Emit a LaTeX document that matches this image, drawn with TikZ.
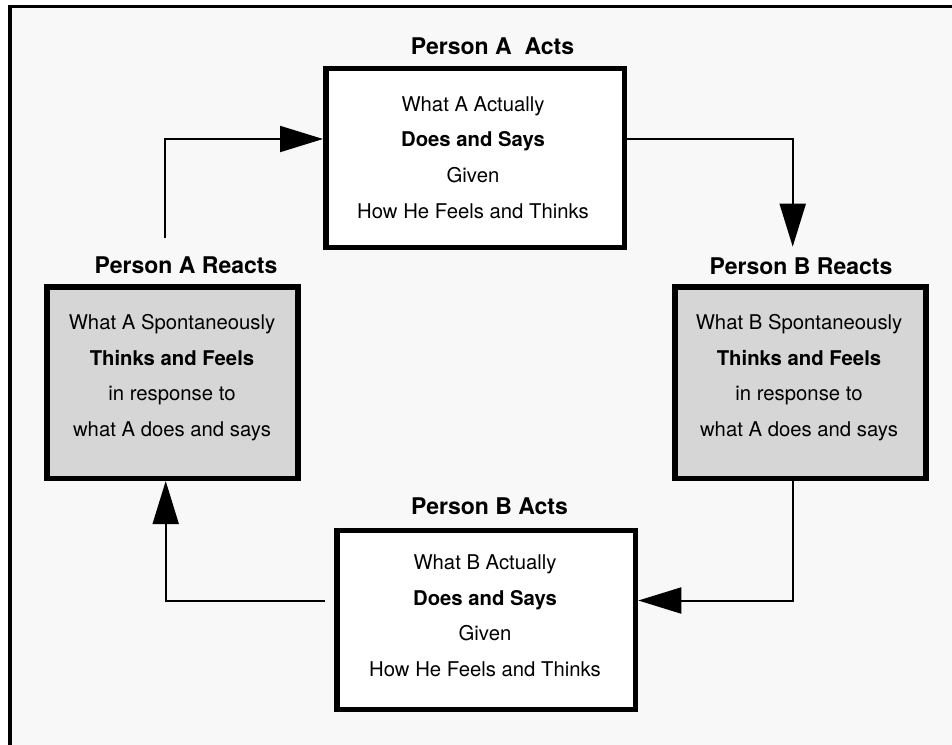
\documentclass[tikz,border=0pt]{standalone}
\usepackage{fontspec}
\setmainfont{TeX Gyre Heros}
\usetikzlibrary{arrows.meta}
\definecolor{bgfill}{HTML}{F8F8F8}
\definecolor{reactfill}{HTML}{D6D6D6}
\tikzset{
  actbox/.style={draw=black, line width=5.5pt, fill=white, inner sep=0pt,
    minimum width=298.5pt, minimum height=178.8pt},
  reactbox/.style={draw=black, line width=5.5pt, fill=reactfill, inner sep=0pt,
    minimum width=251pt, minimum height=191.2pt},
  boxtext/.style={align=center, inner sep=0pt, font=\fontsize{20.3}{35.5}\selectfont},
  titletext/.style={inner sep=0pt, font=\fontsize{23}{27}\selectfont\bfseries},
  conn/.style={line width=2pt, -{Triangle[length=43pt,width=26pt]}},
  plainconn/.style={line width=2pt},
}
\begin{document}
\begin{tikzpicture}[x=1pt,y=-1pt]
\useasboundingbox (0,0) rectangle (952,744);
\fill[bgfill] (10,6.7) rectangle (960,760);
\draw[line width=3.4pt] (10,760) -- (10,6.7) -- (960,6.7);

% boxes
\node[actbox] (tA) at (475,158) {};
\node[reactbox] (rB) at (800.3,382.7) {};
\node[reactbox] (lA) at (172.7,382.7) {};
\node[actbox] (bB) at (486.3,620) {};

% box texts
\node[boxtext] (tAtext) at (473,157.5) {What A Actually\\\textbf{Does and Says}\\Given\\How He Feels and Thinks};
\node[boxtext] (rBtext) at (799,377.8) {What B Spontaneously\\\textbf{Thinks and Feels}\\in response to\\what A does and says};
\node[boxtext] (lAtext) at (172,377.8) {What A Spontaneously\\\textbf{Thinks and Feels}\\in response to\\what A does and says};
\node[boxtext] (bBtext) at (485,615.7) {What B Actually\\\textbf{Does and Says}\\Given\\How He Feels and Thinks};

% titles
\node[titletext] (tAtitle) at (492.5,46) {Person A~~Acts};
\node[titletext] (rBtitle) at (801,266) {Person B Reacts};
\node[titletext] (lAtitle) at (186,265) {Person A Reacts};
\node[titletext] (bBtitle) at (489.5,506.7) {Person B Acts};

% connector coordinates
\coordinate (c1) at (165.3,238.3);
\coordinate (k1) at (165.3,139);
\coordinate (k2) at (792.7,139);
\coordinate (e2) at (792.7,246.7);
\coordinate (v3) at (792.7,600.5);
\coordinate (s4) at (325,600.5);
\coordinate (k4) at (165.7,600.5);

% connectors
\draw[conn] (c1) -- (k1) -- (tA.west |- k1);
\draw[conn] (tA.east |- k1) -- (k2) -- (e2);
\draw[conn] (rB.south -| v3) -- (v3) -- (bB.east |- v3);
\draw[conn] (s4) -- (k4) -- (k4 |- lA.south);
\end{tikzpicture}
\end{document}
